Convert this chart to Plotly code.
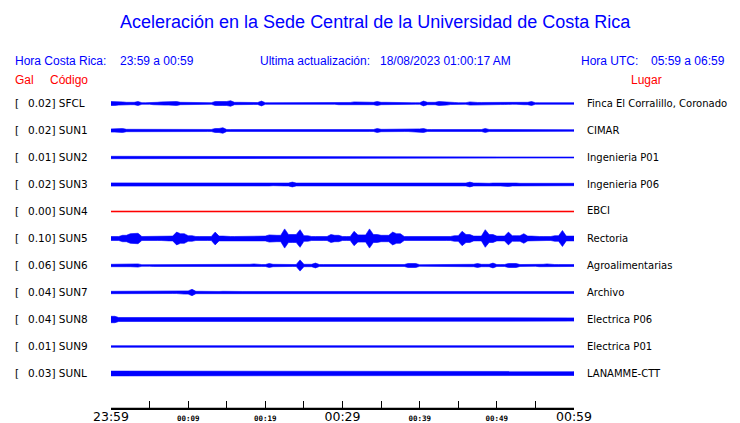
import plotly.graph_objects as go

# ---------------- data ----------------
codes = ["SFCL", "SUN1", "SUN2", "SUN3", "SUN4", "SUN5", "SUN6", "SUN7", "SUN8", "SUN9", "SUNL"]
gal = ["0.02", "0.02", "0.01", "0.02", "0.00", "0.10", "0.06", "0.04", "0.04", "0.01", "0.03"]
places = ["Finca El Corralillo, Coronado", "CIMAR", "Ingenieria P01", "Ingenieria P06", "EBCI",
          "Rectoria", "Agroalimentarias", "Archivo", "Electrica P06", "Electrica P01", "LANAMME-CTT"]
trace_colors = ["blue"] * 4 + ["red"] + ["blue"] * 6

# minutes since 23:59 (one envelope value per minute, relative amplitude)
minutes = list(range(61))
env_SFCL = [2.5, 2, 1.5, 2.5, 1, 1.5, 2, 2, 2.5, 1.5, 1.5, 1.5, 1, 2.5, 2.5, 3.5, 1.5, 1.5, 1.2, 3,
            1, 1, 1, 1.5, 1, 1.3, 1.3, 1.3, 1, 1.5, 1.3, 2, 2, 1.5, 2.5, 1.5, 1.3, 1.5, 1, 1,
            3, 1.5, 2.5, 2, 1.3, 1, 2, 1.3, 1.3, 1.5, 1.3, 1.5, 1, 1.5, 2.5, 1, 1.3, 1, 1.3, 1]
env_SUN1 = [2, 2.5, 1.5, 1.5, 1.5, 1.2, 1.2, 1, 1.5, 1.2, 1.2, 1.3, 1.3, 2.5, 3.5, 1.2, 1.2, 1.2, 1.2, 1.5,
            1.2, 1, 1.5, 1.3, 1.2, 1.2, 1.2, 1.2, 1, 1.2, 1.2, 1.2, 1.2, 1.2, 2.5, 1.5, 1.5, 1.3, 1.3, 2,
            2.5, 1.2, 1.2, 1.2, 1.5, 1.5, 1.2, 1.2, 2.5, 1.3, 1.3, 1.5, 1.5, 1.2, 1.3, 1, 1.3, 1, 1, 1]
env_SUN2 = [1.5, 0.6, 0.6, 0.6, 0.6, 0.6, 0.6, 0.6, 0.6, 1.3, 0.6, 0.6, 0.6, 0.6, 0.6, 0.6, 0.6, 0.6, 0.6, 0.6,
            0.6, 0.6, 0.6, 0.6, 0.6, 0.6, 1.5, 0.6, 1.3, 0.6, 0.6, 0.6, 0.6, 0.6, 0.6, 0.6, 0.6, 1.3, 0.6, 0.6,
            0.6, 0.6, 0.6, 0.6, 0.6, 0.6, 0.6, 0.6, 0.6, 0.6, 0.6, 0.6, 0.6, 0.6, 0.6, 0.6, 0.6, 0.6, 0.6, 0.6]
env_SUN3 = [2, 1.8, 1.8, 1.8, 1.8, 1.8, 1.8, 1.5, 1.8, 1.5, 1.8, 1.8, 1.5, 1.8, 1.8, 1.5, 1.8, 1.8, 1.5, 1.8,
            1.8, 1.5, 1.8, 3, 1.8, 1.8, 1.5, 1.8, 1.8, 1.5, 1.8, 1.8, 1.8, 1.8, 1.5, 1.8, 1.8, 1.8, 1.8, 1.8,
            1.8, 1.8, 1.8, 1.5, 1.8, 1.8, 3, 1.8, 1.5, 1.8, 1.8, 2.5, 1.8, 1.5, 1.8, 1.5, 1.8, 1.5, 1.8, 1.5]
env_SUN4 = [0.6] * 60
env_SUN5 = [2.5, 4, 6, 6.5, 2.5, 2.5, 2.5, 3, 8, 6, 3.5, 2.5, 2.5, 8, 3, 2.5, 2.5, 2.5, 2.5, 3,
            4.5, 4, 12, 5, 11, 3.5, 2.5, 2.5, 5, 4, 2.5, 9, 4.5, 12, 5, 4, 8, 6, 2.5, 2.5,
            3, 2.5, 2.5, 2.5, 3.5, 9, 5, 3, 11, 5, 3, 8, 3.5, 6, 3, 2.5, 2.5, 3.5, 10, 3]
env_SUN6 = [1.5, 1.5, 1.5, 2, 1, 1.2, 1.5, 1.5, 1.2, 1.2, 1.2, 1.5, 1.2, 1.5, 1.5, 1.5, 1.5, 1.5, 2, 1.2,
            2.5, 1.5, 1.5, 1.2, 7, 1.5, 3, 1.2, 1.5, 1.5, 1.5, 1.5, 1.5, 1.5, 1.2, 1.2, 1.2, 1.2, 2.5, 2.5,
            1, 1.5, 1.5, 1, 1.2, 1.5, 1.5, 2.5, 1.5, 3, 1.2, 2.5, 2.5, 1.2, 1, 1.5, 2, 1.2, 1.2, 1.2]
env_SUN7 = [1.5, 1.3, 1.3, 1.3, 1.3, 1.5, 1.3, 1.3, 1.3, 2, 4, 1.5, 1.3, 1.3, 1.5, 1.3, 1.3, 1.3, 1.5, 1.3,
            1.3, 1.3, 1.5, 1.3, 1.3, 1.3, 1.5, 1.3, 1.3, 1.5, 1.3, 1.3, 1.3, 1.5, 1.3, 1.3, 1.3, 1.3, 1.5, 1.3,
            1.5, 1.3, 1.3, 1.3, 1.5, 1.3, 1.3, 1.3, 1.3, 1.5, 1.3, 1.3, 1.3, 1.5, 1.3, 1.3, 1.3, 1.5, 1.3, 1.3]
env_SUN8 = [4, 2.5, 2, 2, 2, 2, 2, 2, 2, 2, 2, 2, 2, 2, 2, 2, 2, 2, 2, 2,
            2, 2, 2, 2, 2, 2, 2, 2, 2, 2, 2, 2, 2, 2, 2, 2, 2, 2, 2, 2,
            2, 2, 2, 2, 2, 2, 2, 2, 2, 2, 2, 2, 2, 2, 2, 2, 2, 2, 2, 2]
env_SUN9 = [1, 1, 1, 1, 1, 1, 1, 1, 1, 1, 1, 1, 1, 1, 1, 1, 1, 1, 1, 1,
            1, 1, 1, 1, 1, 1, 1, 1, 1, 1, 1, 1, 1, 1, 1, 1, 1, 1, 1, 1,
            1, 1, 1, 1, 1, 1, 1, 1, 1, 1, 1, 1, 1, 1, 1, 1, 1, 1, 1, 1]
env_SUNL = [3, 2.5, 2.5, 2.5, 3, 2.5, 2.5, 2.5, 2.5, 3, 2.5, 2.5, 2.5, 2.5, 2.5, 3, 2.5, 2.5, 2.5, 2.5,
            2.5, 2.5, 3, 2.5, 2.5, 2.5, 2.5, 2.5, 2.5, 2.5, 2.5, 2.5, 2.5, 3, 2.5, 2.5, 2.5, 2.5, 2.5, 2.5,
            2.5, 2.5, 2.5, 2.5, 3, 2.5, 2.5, 2.5, 2.5, 2.5, 2.5, 2.5, 2.5, 2.5, 2.5, 2.5, 3, 2.5, 2.5, 2.5]
envelopes = [env_SFCL, env_SUN1, env_SUN2, env_SUN3, env_SUN4, env_SUN5, env_SUN6,
             env_SUN7, env_SUN8, env_SUN9, env_SUNL]

tick_minutes = [0, 5, 10, 15, 20, 25, 30, 35, 40, 45, 50, 55, 60]
tick_labels = ["23:59", "", "00:09", "", "00:19", "", "00:29", "", "00:39", "", "00:49", "", "00:59"]
big_labels = {"23:59", "00:29", "00:59"}

title = "Aceleración en la Sede Central de la Universidad de Costa Rica"
hora_cr = "23:59 a 00:59"
ultima = "18/08/2023 01:00:17 AM"
hora_utc = "05:59 a 06:59"

# ---------------- figure ----------------
OFF = 8  # page body margin in the browser
W, H = 740 - OFF, 423 - OFF
# reference-pixel positions of the plot frame
PX_L, PX_R, PX_T, PX_B = 111, 574, 88, 409
L, R, T, B = PX_L - OFF, (W + OFF) - PX_R, PX_T - OFF, (H + OFF) - PX_B
ROW0, ROWSTEP = 103.5, 27.0

AMP = 0.8 / ROWSTEP  # envelope units -> row units
fig = go.Figure()
for i, env in enumerate(envelopes):
    n = len(env)
    # outline: peak at each minute's centre, edges at the smaller neighbour
    px, pa = [0.0], [env[0]]
    for k in range(n):
        px.append(minutes[k] + 0.5)
        pa.append(env[k])
        if k < n - 1:
            px.append(minutes[k + 1])
            pa.append(min(env[k], env[k + 1]))
    px.append(60.0)
    pa.append(env[-1])
    xs = px + px[::-1]
    ys = [i - a * AMP for a in pa] + [i + a * AMP for a in pa[::-1]]
    fig.add_trace(go.Scatter(x=xs, y=ys, fill="toself", fillcolor=trace_colors[i],
                             mode="lines", line=dict(width=0.6, color=trace_colors[i]),
                             hoverinfo="skip", showlegend=False))

ticktext = []
for t in tick_labels:
    if t in big_labels:
        ticktext.append('<span style="font-size:12.5px;font-family:DejaVu Sans">' + t + '</span>')
    elif t:
        ticktext.append('<b>' + t + '</b>')
    else:
        ticktext.append(t)

top_px = PX_T - ROW0
bot_px = PX_B - ROW0

# time-axis baseline drawn as a trace along the bottom of the plot frame
axis_y = (bot_px - 0.6) / ROWSTEP
fig.add_trace(go.Scatter(x=[tick_minutes[0], tick_minutes[-1]], y=[axis_y, axis_y],
                         mode="lines", line=dict(color="black", width=1.2),
                         cliponaxis=False, hoverinfo="skip", showlegend=False))

fig.update_layout(
    width=W, height=H,
    margin=dict(l=L, r=R, t=T, b=B, pad=0),
    paper_bgcolor="white", plot_bgcolor="white",
    showlegend=False,
    xaxis=dict(range=[0, 60], showgrid=False, zeroline=False, showline=True,
               linecolor="black", linewidth=1, ticks="inside", ticklen=8,
               tickcolor="black", tickwidth=1, tickmode="array", automargin=False,
               tickvals=tick_minutes, ticktext=ticktext, ticklabelstandoff=2,
               tickfont=dict(family="DejaVu Sans Mono", size=7.5, color="black")),
    yaxis=dict(range=[bot_px / ROWSTEP, top_px / ROWSTEP], visible=False, showgrid=False,
               zeroline=False, automargin=False),
)

def px_x(p):
    return (p - PX_L) / (PX_R - PX_L)

def px_y(p):
    return 1 - (p - PX_T) / (PX_B - PX_T)

ann = []
blue = "#0000ff"
red = "#ff0000"
hfont = "Liberation Sans"
ann.append(dict(text=title, x=px_x(375), y=px_y(22), xanchor="center", yanchor="middle",
                font=dict(family=hfont, size=18, color=blue)))
for txt, xp in [("Hora Costa Rica:", 15), (hora_cr, 120), ("Ultima actualización:", 260),
                (ultima, 380), ("Hora UTC:", 581), (hora_utc, 651)]:
    ann.append(dict(text=txt, x=px_x(xp - 2), y=px_y(61), xanchor="left", yanchor="middle",
                    font=dict(family=hfont, size=12, color=blue)))
for txt, xp in [("Gal", 15), ("Código", 50), ("Lugar", 631)]:
    ann.append(dict(text=txt, x=px_x(xp - 2), y=px_y(80), xanchor="left", yanchor="middle",
                    font=dict(family=hfont, size=12, color=red)))
lfont = dict(family="DejaVu Sans", size=10.5, color="black")
pfont = dict(family="DejaVu Sans", size=10, color="black")
for i in range(len(codes)):
    yy = px_y(ROW0 - 0.5 + ROWSTEP * i)
    ann.append(dict(text="[", x=px_x(13), y=yy, xanchor="left", yanchor="middle", font=lfont))
    ann.append(dict(text=gal[i] + "] " + codes[i], x=px_x(26), y=yy, xanchor="left",
                    yanchor="middle", font=lfont))
    ann.append(dict(text=places[i], x=px_x(585), y=yy, xanchor="left", yanchor="middle",
                    font=pfont))
for a in ann:
    a.update(xref="paper", yref="paper", showarrow=False)
fig.update_layout(annotations=ann)

fig.write_html("out.html")
